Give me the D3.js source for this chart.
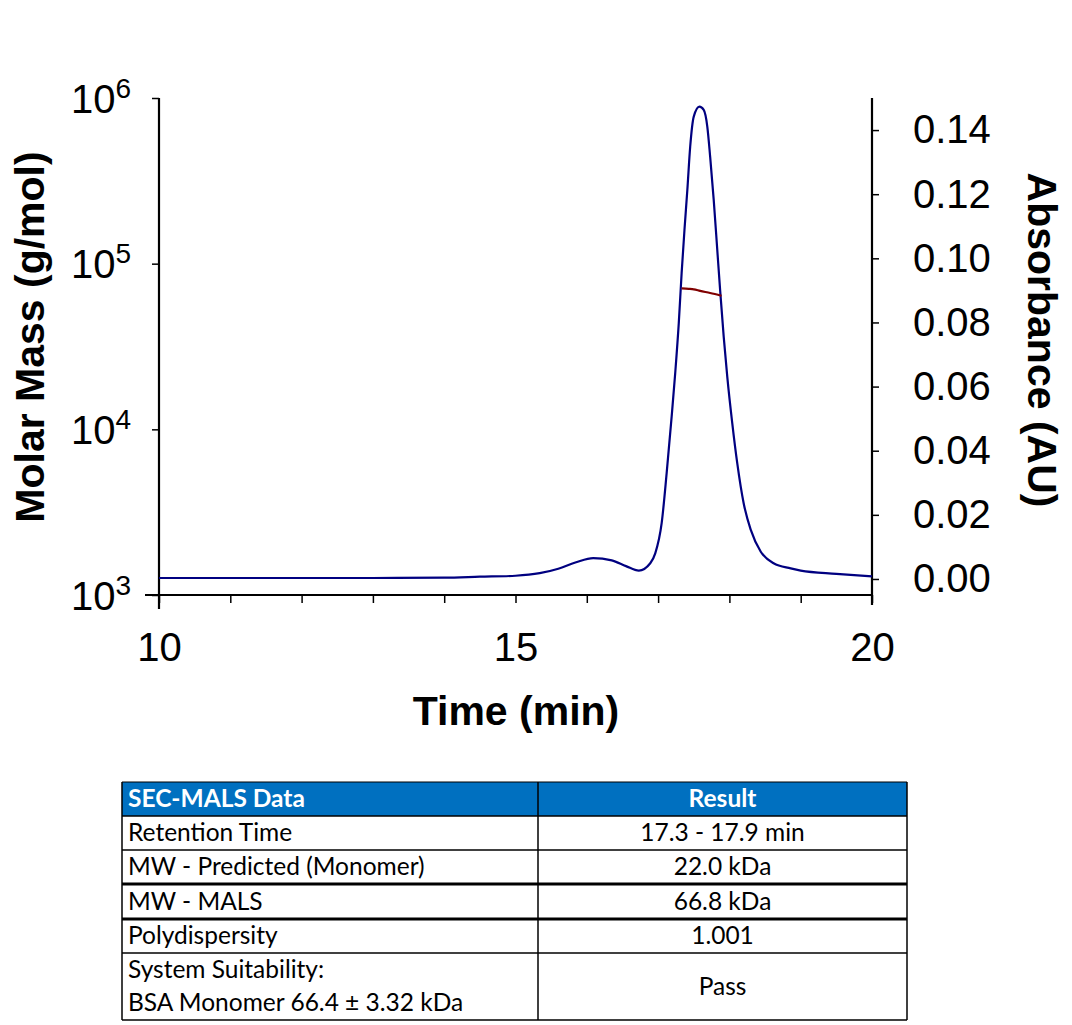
<!DOCTYPE html>
<html><head><meta charset="utf-8">
<script src="https://cdn.jsdelivr.net/npm/d3@7"></script>
<style>
body{margin:0;background:#fff;}
svg{display:block;}
.ax text{font-family:"Liberation Sans",Arial,sans-serif;}
</style></head>
<body><svg id="c" width="1072" height="1025"></svg>
<script>
// ---- data ----
const absTime = [10.0,11.0,12.0,13.0,14.0,14.5,15.0,15.34,15.6,15.85,16.09,16.35,16.55,16.73,16.89,16.96,17.05,17.12,17.19,17.24,17.29,17.33,17.37,17.41,17.45,17.50,17.58,17.64,17.69,17.73,17.78,17.83,17.87,17.92,17.97,18.04,18.11,18.20,18.30,18.44,18.62,18.86,19.00,19.5,20.0];
const absValue = [0.0003,0.0003,0.0003,0.0003,0.0004,0.0007,0.0010,0.0018,0.0032,0.0052,0.0065,0.0058,0.0040,0.0026,0.0049,0.0080,0.0174,0.0330,0.0506,0.0642,0.0798,0.0954,0.1089,0.1213,0.1348,0.1442,0.1473,0.1463,0.1411,0.1317,0.1182,0.1026,0.0901,0.0756,0.0631,0.0486,0.0361,0.0236,0.0153,0.0085,0.0049,0.0033,0.0026,0.0016,0.0008];
const massTime = [17.33,17.43,17.50,17.59,17.73,17.89];
const massValue = [71000,70500,70000,68500,66500,64000];
const xTicks = [10,11,12,13,14,15,16,17,18,19,20];
const xLabels = [10,15,20];
const massTicks = [1e3,1e4,1e5,1e6];
const absTicks = [0,0.02,0.04,0.06,0.08,0.10,0.12,0.14];
const tableHeader = ["SEC-MALS Data","Result"];
const tableRows = [
  [["Retention Time"],["17.3 - 17.9 min"]],
  [["MW - Predicted (Monomer)"],["22.0 kDa"]],
  [["MW - MALS"],["66.8 kDa"]],
  [["Polydispersity"],["1.001"]],
  [["System Suitability:","BSA Monomer 66.4 ± 3.32 kDa"],["Pass"]]
];

// ---- layout ----
const svg = d3.select("#c");
const L=159, R=872, T=98, B=595;
const x = d3.scaleLinear().domain([10,20]).range([L,R]);
const yM = d3.scaleLog().domain([1e3,1e6]).range([B,T]);
const yA = d3.scaleLinear().domain([-0.005,0.15]).range([B,T]);

// axes
const gx = svg.append("g").attr("class","ax").attr("transform",`translate(0,${B})`)
  .call(d3.axisBottom(x).tickValues(xTicks).tickSize(8).tickPadding(30)
     .tickFormat(d=>xLabels.includes(d)?d:""));
const gl = svg.append("g").attr("class","ax").attr("transform",`translate(${L},0)`)
  .call(d3.axisLeft(yM).tickValues(massTicks).tickSize(7).tickFormat(()=>""));
const gr = svg.append("g").attr("class","ax").attr("transform",`translate(${R},0)`)
  .call(d3.axisRight(yA).tickValues(absTicks).tickSize(7).tickPadding(34).tickFormat(d3.format(".2f")));
[gx,gl,gr].forEach(g=>{
  g.selectAll(".tick line").attr("stroke","#000").attr("stroke-width",1.5);
  g.selectAll("text").attr("font-size",40).attr("fill","#000");
  g.select(".domain").remove();
});
svg.append("line").attr("x1",L-14).attr("x2",R).attr("y1",B).attr("y2",B).attr("stroke","#000").attr("stroke-width",2.2);
svg.append("line").attr("x1",L).attr("x2",L).attr("y1",T).attr("y2",B+14).attr("stroke","#000").attr("stroke-width",2.2);
svg.append("line").attr("x1",R).attr("x2",R).attr("y1",T).attr("y2",B+10).attr("stroke","#000").attr("stroke-width",2.2);

// log labels with superscripts
gl.selectAll(".tick").each(function(d){
  const t = d3.select(this).append("text").attr("x",-28).attr("y",14)
    .attr("text-anchor","end").attr("fill","#000")
    .attr("font-family","Liberation Sans, Arial, sans-serif");
  t.append("tspan").attr("font-size",40).text("10");
  t.append("tspan").attr("font-size",28).attr("dy",-15).text(Math.round(Math.log10(d)));
});

// axis titles
svg.append("text").attr("transform","translate(44,337) rotate(-90)").attr("text-anchor","middle")
  .attr("font-family","Liberation Sans, Arial, sans-serif").attr("font-weight","bold").attr("font-size",41).text("Molar Mass (g/mol)");
svg.append("text").attr("transform","translate(1028,340) rotate(90)").attr("text-anchor","middle")
  .attr("font-family","Liberation Sans, Arial, sans-serif").attr("font-weight","bold").attr("font-size",41).text("Absorbance (AU)");
svg.append("text").attr("x",516).attr("y",725).attr("text-anchor","middle")
  .attr("font-family","Liberation Sans, Arial, sans-serif").attr("font-weight","bold").attr("font-size",41).text("Time (min)");

// lines
const absData = absTime.map((t,i)=>[t,absValue[i]]);
const massData = massTime.map((t,i)=>[t,massValue[i]]);
svg.append("path").datum(absData).attr("fill","none").attr("stroke","#000080").attr("stroke-width",2.2)
  .attr("d",d3.line().x(d=>x(d[0])).y(d=>yA(d[1])).curve(d3.curveMonotoneX));
svg.append("path").datum(massData).attr("fill","none").attr("stroke","#800000").attr("stroke-width",2.2)
  .attr("d",d3.line().x(d=>x(d[0])).y(d=>yM(d[1])).curve(d3.curveMonotoneX));

// table
const tx0=122, tx1=907, tdiv=538, tf="Lato, 'Open Sans', sans-serif", fs=24.5;
const rowY=[782,816,850,884,919,953,1020];
const tcol2 = (tdiv+tx1)/2;
svg.append("rect").attr("x",tx0).attr("y",rowY[0]).attr("width",tx1-tx0).attr("height",rowY[1]-rowY[0]).attr("fill","#0070C0");
svg.append("text").attr("x",tx0+6).attr("y",(rowY[0]+rowY[1])/2+8).attr("fill","#fff").attr("font-family",tf).attr("font-weight","bold").attr("font-size",fs).text(tableHeader[0]);
svg.append("text").attr("x",tcol2).attr("y",(rowY[0]+rowY[1])/2+8).attr("text-anchor","middle").attr("fill","#fff").attr("font-family",tf).attr("font-weight","bold").attr("font-size",fs).text(tableHeader[1]);
tableRows.forEach((r,i)=>{
  const y0=rowY[i+1], y1=rowY[i+2], cy=(y0+y1)/2;
  const n=r[0].length;
  r[0].forEach((s,j)=>{
    svg.append("text").attr("x",tx0+6).attr("y",cy+8+(j-(n-1)/2)*33).attr("font-family",tf).attr("font-size",fs).attr("fill","#000").text(s);
  });
  svg.append("text").attr("x",tcol2).attr("y",cy+8).attr("text-anchor","middle").attr("font-family",tf).attr("font-size",fs).attr("fill","#000").text(r[1][0]);
});
// grid lines
const hw=[1.5,1.5,3,3,1.5,1.5];
rowY.slice(1).forEach((y,i)=>{
  svg.append("line").attr("x1",tx0).attr("x2",tx1).attr("y1",y).attr("y2",y).attr("stroke","#000").attr("stroke-width",hw[i]);
});
svg.append("line").attr("x1",tx0).attr("x2",tx1).attr("y1",rowY[0]).attr("y2",rowY[0]).attr("stroke","#000").attr("stroke-width",1);
[tx0,tdiv,tx1].forEach(xx=>{
  svg.append("line").attr("x1",xx).attr("x2",xx).attr("y1",rowY[0]).attr("y2",rowY[6]).attr("stroke","#000").attr("stroke-width",1.5);
});
</script></body></html>
